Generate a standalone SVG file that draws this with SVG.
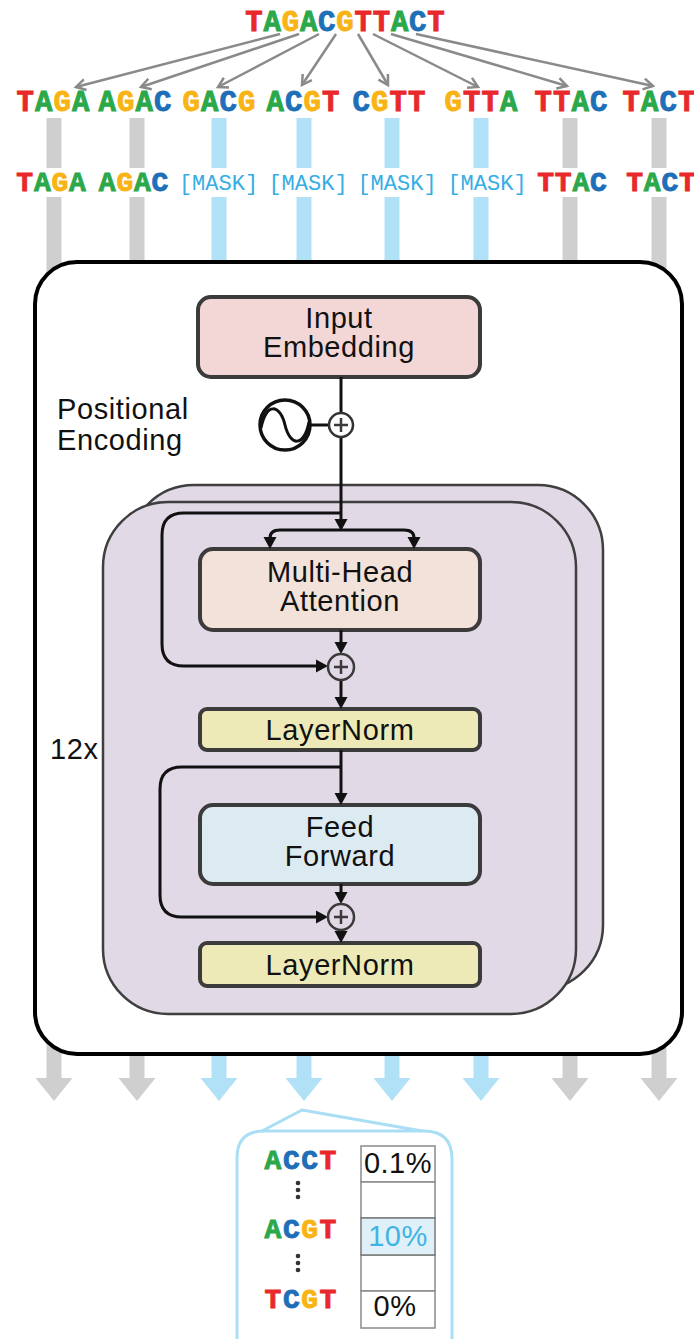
<svg xmlns="http://www.w3.org/2000/svg" width="694" height="1339" viewBox="0 0 694 1339">
  <style>
    .dna { font-family: "Liberation Mono", "Courier New", monospace; font-weight: bold; text-anchor: middle; stroke-width: 0.9px; }
    .t { fill: #e8282b; stroke: #e8282b; }
    .a { fill: #2ba84a; stroke: #2ba84a; }
    .g { fill: #f8b414; stroke: #f8b414; }
    .c { fill: #1e6fb8; stroke: #1e6fb8; }
    .mask { font-family: "Liberation Mono", "Courier New", monospace; font-size: 22px; fill: #36aee4; text-anchor: middle; }
    .lbl { font-family: "Liberation Sans", Arial, sans-serif; font-size: 29px; letter-spacing: 0.6px; fill: #111; }
    .mid { text-anchor: middle; }
    .pct { font-family: "Liberation Sans", Arial, sans-serif; font-size: 29px; letter-spacing: 0.5px; text-anchor: middle; fill: #111; }
    .bar-g { fill: #cfcfcf; }
    .bar-b { fill: #b1e1f6; }
    .box { stroke: #3b3b3b; stroke-width: 4; }
    .block { fill: #e1d9e6; stroke: #3f3f3f; stroke-width: 2.5; }
    .wire { fill: none; stroke: #111; stroke-width: 3; }
    .head { fill: #111; }
    .fan { fill: none; stroke: #8a8a8a; stroke-width: 2.5; }
    .sum { fill: none; stroke: #3a3a3a; stroke-width: 2.5; }
    .cell { fill: #fff; stroke: #8a8a8a; stroke-width: 1.5; }
  </style>
  <defs>
    <marker id="chev" markerUnits="userSpaceOnUse" markerWidth="14" markerHeight="14" refX="11" refY="7" orient="auto">
      <path d="M1.5,1.5 L11,7 L1.5,12.5" fill="none" stroke="#8a8a8a" stroke-width="2.5"/>
    </marker>
    <polygon id="ah" points="-6.5,-12 6.5,-12 0,0" class="head"/>
    <polygon id="ahr" points="-12,-6.5 -12,6.5 0,0" class="head"/>
    <polygon id="bigah" points="-18.5,0 18.5,0 0,23"/>
  </defs>

  <!-- token columns (behind everything) -->
  <g id="columns">
    <rect class="bar-g" x="46.5" y="118" width="15" height="50"/>
    <rect class="bar-g" x="129.5" y="118" width="15" height="50"/>
    <rect class="bar-b" x="211.5" y="118" width="15" height="50"/>
    <rect class="bar-b" x="296.5" y="118" width="15" height="50"/>
    <rect class="bar-b" x="384.5" y="118" width="15" height="50"/>
    <rect class="bar-b" x="473.5" y="118" width="15" height="50"/>
    <rect class="bar-g" x="562.5" y="118" width="15" height="50"/>
    <rect class="bar-g" x="651.5" y="118" width="15" height="50"/>

    <rect class="bar-g" x="46.5" y="197" width="15" height="884"/>
    <rect class="bar-g" x="129.5" y="197" width="15" height="884"/>
    <rect class="bar-b" x="211.5" y="197" width="15" height="884"/>
    <rect class="bar-b" x="296.5" y="197" width="15" height="884"/>
    <rect class="bar-b" x="384.5" y="197" width="15" height="884"/>
    <rect class="bar-b" x="473.5" y="197" width="15" height="884"/>
    <rect class="bar-g" x="562.5" y="197" width="15" height="884"/>
    <rect class="bar-g" x="651.5" y="197" width="15" height="884"/>

    <use href="#bigah" x="54" y="1078" class="bar-g"/>
    <use href="#bigah" x="137" y="1078" class="bar-g"/>
    <use href="#bigah" x="219" y="1078" class="bar-b"/>
    <use href="#bigah" x="304" y="1078" class="bar-b"/>
    <use href="#bigah" x="392" y="1078" class="bar-b"/>
    <use href="#bigah" x="481" y="1078" class="bar-b"/>
    <use href="#bigah" x="570" y="1078" class="bar-g"/>
    <use href="#bigah" x="659" y="1078" class="bar-g"/>
  </g>

  <!-- full sequence -->
  <g id="sequence">
    <text class="dna" y="31" font-size="29"><tspan x="254" class="t">T</tspan><tspan x="272.2" class="a">A</tspan><tspan x="290.4" class="g">G</tspan><tspan x="308.6" class="a">A</tspan><tspan x="326.8" class="c">C</tspan><tspan x="345" class="g">G</tspan><tspan x="363.2" class="t">T</tspan><tspan x="381.4" class="t">T</tspan><tspan x="399.6" class="a">A</tspan><tspan x="417.8" class="c">C</tspan><tspan x="436" class="t">T</tspan></text>
  </g>

  <!-- k-mer split arrows -->
  <g id="split-arrows">
    <line class="fan" x1="280" y1="34" x2="76" y2="87" marker-end="url(#chev)"/>
    <line class="fan" x1="299" y1="34" x2="141" y2="87" marker-end="url(#chev)"/>
    <line class="fan" x1="319" y1="34" x2="218" y2="87" marker-end="url(#chev)"/>
    <line class="fan" x1="336" y1="34" x2="302" y2="85" marker-end="url(#chev)"/>
    <line class="fan" x1="358" y1="34" x2="388" y2="85" marker-end="url(#chev)"/>
    <line class="fan" x1="373" y1="34" x2="478" y2="87" marker-end="url(#chev)"/>
    <line class="fan" x1="391" y1="34" x2="567" y2="86" marker-end="url(#chev)"/>
    <line class="fan" x1="416" y1="34" x2="653" y2="86" marker-end="url(#chev)"/>
  </g>

  <!-- k-mer tokens -->
  <g id="kmers" font-size="29">
    <text class="dna" y="111"><tspan x="25.2" class="t">T</tspan><tspan x="43.7" class="a">A</tspan><tspan x="62.2" class="g">G</tspan><tspan x="80.7" class="a">A</tspan></text>
    <text class="dna" y="111"><tspan x="107.2" class="a">A</tspan><tspan x="125.7" class="g">G</tspan><tspan x="144.2" class="a">A</tspan><tspan x="162.7" class="c">C</tspan></text>
    <text class="dna" y="111"><tspan x="191.2" class="g">G</tspan><tspan x="209.7" class="a">A</tspan><tspan x="228.2" class="c">C</tspan><tspan x="246.7" class="g">G</tspan></text>
    <text class="dna" y="111"><tspan x="275.2" class="a">A</tspan><tspan x="293.7" class="c">C</tspan><tspan x="312.2" class="g">G</tspan><tspan x="330.7" class="t">T</tspan></text>
    <text class="dna" y="111"><tspan x="361.2" class="c">C</tspan><tspan x="379.7" class="g">G</tspan><tspan x="398.2" class="t">T</tspan><tspan x="416.7" class="t">T</tspan></text>
    <text class="dna" y="111"><tspan x="453.2" class="g">G</tspan><tspan x="471.7" class="t">T</tspan><tspan x="490.2" class="t">T</tspan><tspan x="508.7" class="a">A</tspan></text>
    <text class="dna" y="111"><tspan x="543.2" class="t">T</tspan><tspan x="561.7" class="t">T</tspan><tspan x="580.2" class="a">A</tspan><tspan x="598.7" class="c">C</tspan></text>
    <text class="dna" y="111"><tspan x="631.2" class="t">T</tspan><tspan x="649.7" class="a">A</tspan><tspan x="668.2" class="c">C</tspan><tspan x="686.7" class="t">T</tspan></text>
  </g>

  <!-- masked tokens -->
  <g id="masked" font-size="28">
    <text class="dna" y="191"><tspan x="24.7" class="t">T</tspan><tspan x="42.3" class="a">A</tspan><tspan x="59.9" class="g">G</tspan><tspan x="77.5" class="a">A</tspan></text>
    <text class="dna" y="191"><tspan x="107.2" class="a">A</tspan><tspan x="124.8" class="g">G</tspan><tspan x="142.4" class="a">A</tspan><tspan x="160" class="c">C</tspan></text>
    <text class="dna" y="191"><tspan x="545.6" class="t">T</tspan><tspan x="563.2" class="t">T</tspan><tspan x="580.8" class="a">A</tspan><tspan x="598.4" class="c">C</tspan></text>
    <text class="dna" y="191"><tspan x="634.6" class="t">T</tspan><tspan x="652.2" class="a">A</tspan><tspan x="669.8" class="c">C</tspan><tspan x="687.4" class="t">T</tspan></text>
    <text class="mask" x="218.5" y="190">[MASK]</text>
    <text class="mask" x="308" y="190">[MASK]</text>
    <text class="mask" x="397" y="190">[MASK]</text>
    <text class="mask" x="487" y="190">[MASK]</text>
  </g>

  <!-- encoder frame -->
  <g id="encoder">
    <rect x="35" y="262" width="647" height="792" rx="42" fill="#fff" stroke="#000" stroke-width="4"/>
  </g>

  <g id="input-embedding">
    <rect class="box" x="198" y="297" width="282" height="80" rx="13" fill="#f3d7d7"/>
    <text class="lbl mid" x="339" y="328">Input</text>
    <text class="lbl mid" x="339" y="357">Embedding</text>
  </g>

  <g id="positional-encoding">
    <text class="lbl" x="57" y="419">Positional</text>
    <text class="lbl" x="57" y="450">Encoding</text>
    <circle cx="285" cy="425" r="25" fill="#fff" stroke="#111" stroke-width="3.5"/>
    <path d="M261 428 C266 402 280 404 285 425 C290 446 304 448 309 422" fill="none" stroke="#111" stroke-width="3"/>
  </g>

  <!-- stacked encoder layers -->
  <g id="layer-stack">
    <rect class="block" x="129" y="485" width="474" height="505" rx="65"/>
    <rect class="block" x="103" y="502" width="473" height="512" rx="65"/>
    <text class="lbl" x="50" y="759">12x</text>
  </g>

  <g id="multi-head-attention">
    <rect class="box" x="200" y="549" width="280" height="81" rx="13" fill="#f2e2d9"/>
    <text class="lbl mid" x="340" y="582">Multi-Head</text>
    <text class="lbl mid" x="340" y="611">Attention</text>
  </g>

  <g id="layernorm-1">
    <rect class="box" x="200" y="709" width="280" height="41" rx="7" fill="#eeeab7"/>
    <text class="lbl mid" x="340" y="740">LayerNorm</text>
  </g>

  <g id="feed-forward">
    <rect class="box" x="200" y="805" width="280" height="79" rx="13" fill="#dceaf2"/>
    <text class="lbl mid" x="340" y="837">Feed</text>
    <text class="lbl mid" x="340" y="866">Forward</text>
  </g>

  <g id="layernorm-2">
    <rect class="box" x="200" y="943" width="280" height="43" rx="7" fill="#eeeab7"/>
    <text class="lbl mid" x="340" y="975">LayerNorm</text>
  </g>

  <!-- data flow -->
  <g id="connectors">
    <line class="wire" x1="341" y1="377" x2="341" y2="413"/>
    <line class="wire" x1="310" y1="425" x2="329" y2="425"/>
    <line class="wire" x1="341" y1="437" x2="341" y2="520"/>
    <use href="#ah" x="341" y="531"/>
    <path class="wire" d="M270 538 Q270 530 280 530 H404 Q414 530 414 538"/>
    <use href="#ah" x="270" y="549"/>
    <use href="#ah" x="414" y="549"/>
    <path class="wire" d="M341 513 H184 Q162 513 162 535 V644 Q162 666 184 666 H317"/>
    <use href="#ahr" x="328" y="666"/>
    <line class="wire" x1="341" y1="630" x2="341" y2="644"/>
    <use href="#ah" x="341" y="654"/>
    <line class="wire" x1="341" y1="680" x2="341" y2="699"/>
    <use href="#ah" x="341" y="709"/>
    <line class="wire" x1="341" y1="750" x2="341" y2="795"/>
    <use href="#ah" x="341" y="805"/>
    <path class="wire" d="M341 767 H182 Q160 767 160 789 V895 Q160 917 182 917 H317"/>
    <use href="#ahr" x="328" y="917"/>
    <line class="wire" x1="341" y1="884" x2="341" y2="894"/>
    <use href="#ah" x="341" y="904"/>
    <line class="wire" x1="341" y1="930" x2="341" y2="934"/>
    <use href="#ah" x="341" y="943"/>

    <g id="add-pe">
      <circle cx="341" cy="425" r="12" fill="#fff" stroke="#333" stroke-width="2.5"/>
      <path class="sum" d="M334 425 H348 M341 418 V432"/>
    </g>
    <g id="add-1">
      <circle cx="341" cy="667" r="13" class="sum"/>
      <path class="sum" d="M334 667 H348 M341 660 V674"/>
    </g>
    <g id="add-2">
      <circle cx="341" cy="917" r="13" class="sum"/>
      <path class="sum" d="M334 917 H348 M341 910 V924"/>
    </g>
  </g>

  <!-- prediction for one masked position -->
  <g id="prediction">
    <path d="M237 1345 V1158 Q237 1131 264 1131 H424 Q452 1131 452 1159 V1345" fill="none" stroke="#a9def5" stroke-width="3"/>
    <path d="M262 1131 L302 1110 L422 1131" fill="none" stroke="#a9def5" stroke-width="3" stroke-linejoin="round"/>

    <g font-size="28">
      <text class="dna" y="1169"><tspan x="273" class="a">A</tspan><tspan x="291.3" class="c">C</tspan><tspan x="309.6" class="c">C</tspan><tspan x="327.9" class="t">T</tspan></text>
      <text class="dna" y="1238"><tspan x="273" class="a">A</tspan><tspan x="291.3" class="c">C</tspan><tspan x="309.6" class="g">G</tspan><tspan x="327.9" class="t">T</tspan></text>
      <text class="dna" y="1308"><tspan x="273" class="t">T</tspan><tspan x="291.3" class="c">C</tspan><tspan x="309.6" class="g">G</tspan><tspan x="327.9" class="t">T</tspan></text>
    </g>
    <g fill="#333">
      <circle cx="298" cy="1183" r="2.3"/><circle cx="298" cy="1190" r="2.3"/><circle cx="298" cy="1197" r="2.3"/>
      <circle cx="298" cy="1256" r="2.3"/><circle cx="298" cy="1263" r="2.3"/><circle cx="298" cy="1270" r="2.3"/>
    </g>

    <rect class="cell" x="361" y="1146" width="74" height="36"/>
    <rect class="cell" x="361" y="1182" width="74" height="36"/>
    <rect class="cell" x="361" y="1255" width="74" height="36"/>
    <rect class="cell" x="361" y="1291" width="74" height="37"/>
    <rect x="361" y="1218" width="74" height="37" fill="#dff0f9" stroke="#7a7a7a" stroke-width="1.5"/>
    <text class="pct" x="398" y="1173">0.1%</text>
    <text class="pct" x="398" y="1246" style="fill:#3fb4e5">10%</text>
    <text class="pct" x="395" y="1316">0%</text>
  </g>
</svg>
